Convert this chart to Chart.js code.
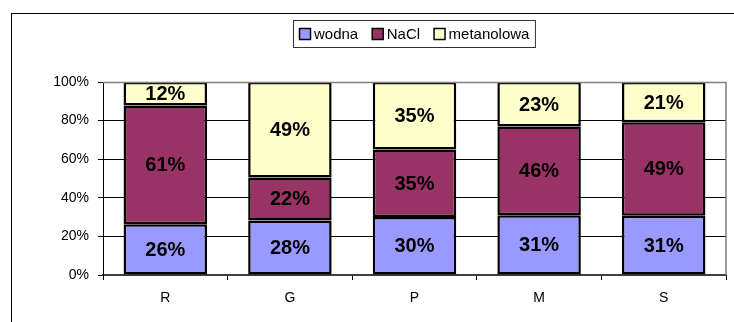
<!DOCTYPE html>
<html>
<head>
<meta charset="utf-8">
<script src="https://cdn.jsdelivr.net/npm/chart.js@4/dist/chart.umd.min.js"></script>
<style>
  html, body { margin: 0; padding: 0; background: #fff; }
  canvas { display: block; }
</style>
</head>
<body>
<canvas id="c" width="734" height="322"></canvas>
<script>
// Share of each extraction type per sample (percent)
const categories = ['R', 'G', 'P', 'M', 'S'];
const wodna      = [26, 28, 30, 31, 31];
const nacl       = [61, 22, 35, 46, 49];
const metanolowa = [12, 49, 35, 23, 21];
const seriesNames = ['wodna', 'NaCl', 'metanolowa'];
const yTicks = [0, 20, 40, 60, 80, 100];

const colors = ['#9999FF', '#993366', '#FFFFCC'];
const raw = [wodna, nacl, metanolowa];

// 100% stacked: each column is scaled to its own total
const totals = categories.map((_, i) => raw.reduce((s, arr) => s + arr[i], 0));
const shares = raw.map(arr => arr.map((v, i) => v / totals[i] * 100));

const FONT = '"Liberation Sans", Arial, sans-serif';

// Outer chart frame and plot-area border
const framePlugin = {
  id: 'frame',
  beforeDraw(chart) {
    const c = chart.ctx;
    c.save();
    c.fillStyle = '#fff';
    c.fillRect(0, 0, chart.width, chart.height);
    c.strokeStyle = '#000';
    c.lineWidth = 1;
    c.strokeRect(11.5, 13.5, chart.width + 20, chart.height + 20);
    c.restore();
  },
  afterDatasetsDraw(chart) {
    const a = chart.chartArea;
    const c = chart.ctx;
    c.save();
    c.strokeStyle = '#808080';
    c.lineWidth = 1.5;
    c.beginPath();
    c.moveTo(a.left, a.top + 0.5);
    c.lineTo(a.right, a.top + 0.5);
    c.lineTo(a.right, a.bottom);
    c.stroke();
    c.restore();
  }
};

// Value labels centred in each segment
const valueLabels = {
  id: 'valueLabels',
  afterDatasetsDraw(chart) {
    const c = chart.ctx;
    c.save();
    c.font = 'bold 20px ' + FONT;
    c.fillStyle = '#000';
    c.textAlign = 'center';
    c.textBaseline = 'middle';
    chart.data.datasets.forEach((ds, di) => {
      chart.getDatasetMeta(di).data.forEach((el, i) => {
        const y = (el.y + el.base) / 2;
        c.fillText(raw[di][i] + '%', el.x, y + 1);
      });
    });
    c.restore();
  }
};

// Boxed legend above the plot
const boxLegend = {
  id: 'boxLegend',
  afterDraw(chart) {
    const c = chart.ctx;
    c.save();
    c.font = '15px ' + FONT;
    const pad = 6, sw = 11, gap = 3.5, itemGap = 14;
    const widths = seriesNames.map(n => c.measureText(n).width);
    let total = pad * 2;
    widths.forEach((w, i) => { total += sw + gap + w + (i ? itemGap : 0); });
    const boxTop = 20.5, boxH = 27;
    const cx = 413.5;
    const left = Math.round(cx - total / 2) + 0.5;
    c.strokeStyle = '#333';
    c.lineWidth = 1;
    c.strokeRect(left, boxTop, total, boxH);
    const midY = boxTop + boxH / 2;
    let x = left + pad;
    c.textBaseline = 'middle';
    c.textAlign = 'left';
    seriesNames.forEach((n, i) => {
      c.fillStyle = colors[i];
      c.fillRect(x, midY - sw / 2, sw, sw);
      c.strokeStyle = '#000';
      c.lineWidth = 1.5;
      c.strokeRect(x, midY - sw / 2, sw, sw);
      c.fillStyle = '#000';
      c.fillText(n, x + sw + gap, midY + 1);
      x += sw + gap + widths[i] + itemGap;
    });
    c.restore();
  }
};

new Chart(document.getElementById('c'), {
  type: 'bar',
  data: {
    labels: categories,
    datasets: seriesNames.map((name, i) => ({
      label: name,
      data: shares[i],
      backgroundColor: colors[i],
      borderColor: '#000',
      borderWidth: 2.5,
      borderSkipped: false,
      barPercentage: 0.67,
      categoryPercentage: 1.0
    }))
  },
  options: {
    responsive: false,
    devicePixelRatio: 1,
    animation: false,
    events: [],
    layout: { padding: { left: 0, top: 82, right: 8, bottom: 0 } },
    plugins: {
      legend: { display: false },
      tooltip: { enabled: false }
    },
    scales: {
      x: {
        stacked: true,
        grid: {
          offset: true,
          drawOnChartArea: false,
          tickLength: 5,
          tickColor: '#000',
          lineWidth: 1
        },
        border: { color: '#404040', width: 2 },
        ticks: {
          color: '#000',
          font: { family: FONT, size: 14 },
          padding: 10
        },
        afterFit(scale) { scale.height = 47; }
      },
      y: {
        stacked: true,
        min: 0,
        max: 100,
        afterBuildTicks(scale) { scale.ticks = yTicks.map(v => ({ value: v })); },
        grid: {
          color: ctx => (ctx.tick && ctx.tick.value === 100) ? '#808080' : '#000',
          tickColor: '#000',
          tickLength: 5,
          lineWidth: 1
        },
        border: { color: '#000', width: 1 },
        ticks: {
          color: '#000',
          font: { family: FONT, size: 14 },
          padding: 9,
          callback: v => v + '%'
        },
        afterFit(scale) { scale.width = 103; }
      }
    }
  },
  plugins: [framePlugin, valueLabels, boxLegend]
});
</script>
</body>
</html>
